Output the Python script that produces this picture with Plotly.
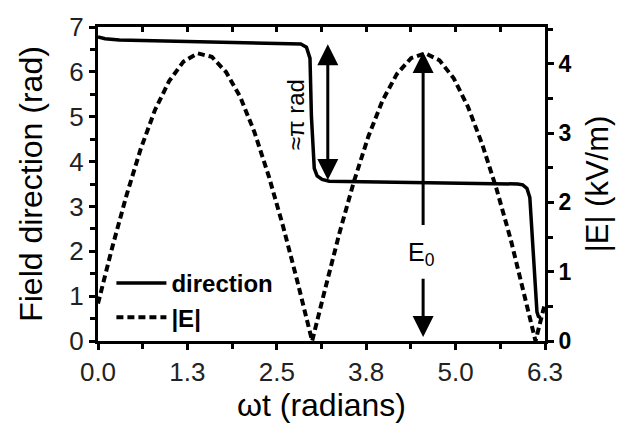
import math
import plotly.graph_objects as go

# ---- data ----
dir_x = [0.0, 0.1, 0.3, 1.0, 2.0, 2.7, 2.85, 2.93, 2.98, 3.0, 3.02, 3.04, 3.08, 3.15, 3.25,
         4.5, 5.5, 5.9, 5.97, 6.03, 6.07, 6.09, 6.13, 6.17, 6.19, 6.22]
dir_y = [6.78, 6.74, 6.71, 6.69, 6.66, 6.63, 6.62, 6.55, 6.3, 5.0, 4.2, 3.85, 3.68, 3.6, 3.56,
         3.54, 3.52, 3.50, 3.48, 3.40, 3.2, 2.7, 1.6, 0.65, 0.55, 0.52]

e_x = [0.0, 0.2, 0.4, 0.6, 0.8, 1.0, 1.2, 1.4, 1.6, 1.8, 2.0, 2.2, 2.4, 2.6, 2.8, 3.01,
       3.2, 3.4, 3.6, 3.8, 4.0, 4.2, 4.4, 4.6, 4.8, 5.0, 5.2, 5.4, 5.6, 5.8, 6.0, 6.15, 6.28]
e_y = [0.54, 1.35, 2.10, 2.77, 3.33, 3.75, 4.03, 4.15, 4.10, 3.88, 3.52, 3.01, 2.38, 1.66, 0.87, 0.0,
       0.78, 1.58, 2.31, 2.95, 3.47, 3.85, 4.08, 4.15, 4.05, 3.79, 3.38, 2.84, 2.20, 1.47, 0.63, 0.0, 0.53]

x_major = [0.0, 1.2566, 2.5133, 3.7699, 5.0265, 6.2832]
x_major_text = ["0.0", "1.3", "2.5", "3.8", "5.0", "6.3"]
x_minor = [0.6283, 1.8850, 3.1416, 4.3982, 5.6549]
x_all = sorted(x_major + x_minor)

left_major = [0, 1, 2, 3, 4, 5, 6, 7]
left_minor = [0.5, 1.5, 2.5, 3.5, 4.5, 5.5, 6.5]
right_major = [0, 1, 2, 3, 4]
right_minor = [0.5, 1.5, 2.5, 3.5, 4.5]

X_MAX = 6.2832
LEFT_MAX = 7.0
RIGHT_MAX = 4.53

FONT = "Liberation Sans, Arial, sans-serif"

fig = go.Figure()
fig.add_trace(go.Scatter(x=dir_x, y=dir_y, mode="lines", name="direction",
                         line=dict(color="black", width=3.5), legendgroup="a"))
fig.add_trace(go.Scatter(x=e_x, y=e_y, mode="lines", name="|E|", yaxis="y2",
                         line=dict(color="black", width=4, dash="7px,4px"), legendgroup="b"))
fig.add_trace(go.Scatter(x=[], y=[], xaxis="x2", yaxis="y", showlegend=False, hoverinfo="skip"))

axis_common = dict(showgrid=False, zeroline=False, showline=True, linecolor="black", linewidth=3)

fig.update_layout(
    width=629, height=431,
    margin=dict(l=98, r=84, t=17, b=90),
    paper_bgcolor="white", plot_bgcolor="white",
    font=dict(family=FONT, color="black"),
    showlegend=True,
    legend=dict(x=0.03, y=0.255, xanchor="left", yanchor="top", bgcolor="rgba(0,0,0,0)",
                font=dict(size=24, family=FONT, weight="bold"), traceorder="grouped",
                tracegroupgap=0, itemwidth=50),
    xaxis=dict(**axis_common, range=[0, X_MAX], mirror=True,
               tickmode="array", tickvals=x_major, ticktext=x_major_text,
               ticks="outside", ticklen=6, tickwidth=2.5, tickcolor="black",
               tickfont=dict(size=26, color="#222"),
               minor=dict(tickvals=x_minor, ticks="outside", ticklen=5, tickwidth=2.5, tickcolor="black"),
               title=dict(text="ωt (radians)", font=dict(size=32), standoff=6)),
    xaxis2=dict(range=[0, X_MAX], overlaying="x", side="top", showgrid=False, zeroline=False,
                showline=False, tickmode="array", tickvals=x_all, showticklabels=False,
                ticks="inside", ticklen=5, tickwidth=2.5, tickcolor="black"),
    yaxis=dict(**axis_common, range=[0, LEFT_MAX],
               tickmode="array", tickvals=left_major,
               ticks="outside", ticklen=6, tickwidth=2.5, tickcolor="black",
               tickfont=dict(size=26, color="#222"),
               minor=dict(tickvals=left_minor, ticks="outside", ticklen=5, tickwidth=2.5, tickcolor="black"),
               title=dict(text="Field direction (rad)", font=dict(size=32), standoff=18)),
    yaxis2=dict(**axis_common, range=[0, RIGHT_MAX], overlaying="y", side="right",
                tickmode="array", tickvals=right_major,
                ticks="outside", ticklen=6, tickwidth=2.5, tickcolor="black",
                tickfont=dict(size=23, weight="bold"),
                minor=dict(tickvals=right_minor, ticks="outside", ticklen=5, tickwidth=2.5, tickcolor="black"),
                title=dict(text="|E| (kV/m)", font=dict(size=31), standoff=16)),
)

# double arrow "≈π rad"
fig.add_annotation(x=3.23, y=3.59, ax=3.23, ay=6.65, xref="x", yref="y", axref="x", ayref="y",
                   showarrow=True, arrowhead=2, startarrowhead=2, arrowside="end+start",
                   arrowsize=1.4, startarrowsize=1.4, arrowwidth=3, arrowcolor="black", text="")
fig.add_annotation(x=2.78, y=5.05, xref="x", yref="y", text="≈π rad", showarrow=False,
                   textangle=-90, font=dict(size=24, family=FONT, color="black"))

# E0 arrows
fig.add_annotation(x=4.57, y=6.44, ax=4.57, ay=2.55, xref="x", yref="y", axref="x", ayref="y",
                   showarrow=True, arrowhead=2, arrowsize=1.4, arrowwidth=3, arrowcolor="black", text="")
fig.add_annotation(x=4.57, y=0.09, ax=4.57, ay=1.42, xref="x", yref="y", axref="x", ayref="y",
                   showarrow=True, arrowhead=2, arrowsize=1.4, arrowwidth=3, arrowcolor="black", text="")
fig.add_annotation(x=4.55, y=1.95, xref="x", yref="y", text="E<sub>0</sub>", showarrow=False,
                   font=dict(size=25, family=FONT, color="black"))

fig.write_html("out.html")
